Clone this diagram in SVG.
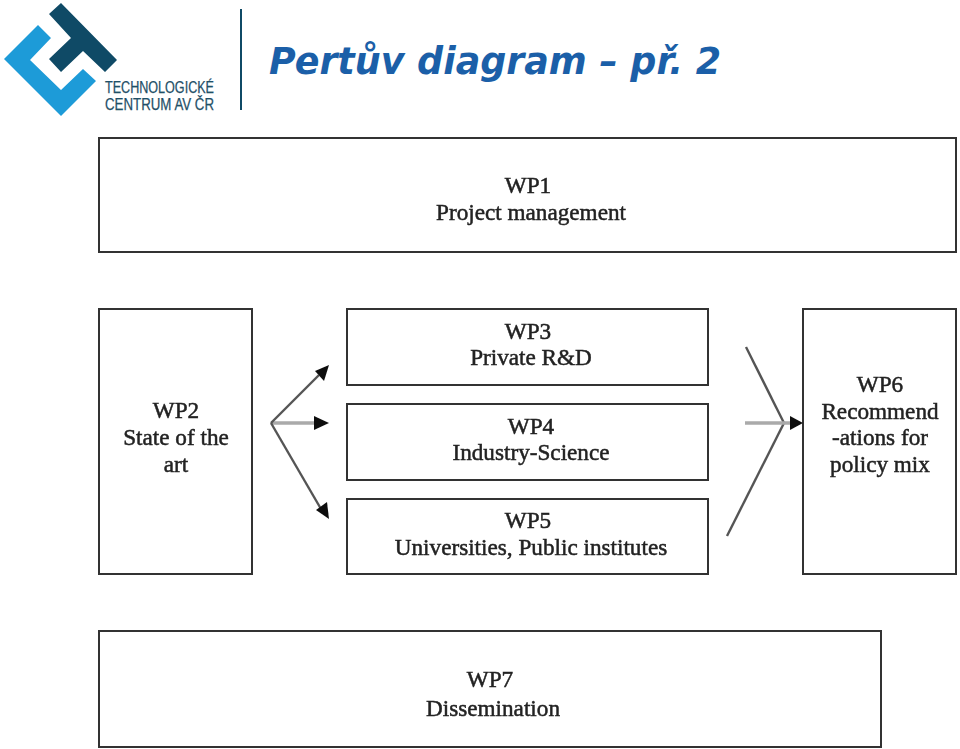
<svg xmlns="http://www.w3.org/2000/svg" width="960" height="749" viewBox="0 0 960 749">
<defs><filter id="soft" x="-2%" y="-2%" width="104%" height="104%"><feGaussianBlur stdDeviation="0.5"/></filter></defs>
<style>
.box{fill:#fff;stroke:#333;stroke-width:2}
.t{font-family:"Liberation Serif",serif;font-size:23.2px;fill:#222;text-anchor:middle;stroke:#222;stroke-width:.5}
.ln{fill:none;stroke:#555;stroke-width:2.4}
.gr{fill:none;stroke:#aaa;stroke-width:3.5}
.ah{fill:#111}
</style>
<rect width="960" height="749" fill="#fff"/>
<g id="logo">
<polygon points="38,25 51,38 30,60 61,90 83,69 96,81 61,116 4,59" fill="#1d9bd8"/>
<polygon points="61,3 117,60 105,72 83,51 61,72 49,59 71,38 49,14" fill="#0f4a66"/>
<text x="105" y="93" font-family="'Liberation Sans',sans-serif" font-size="16" fill="#1f5068" stroke="#1f5068" stroke-width=".25" textLength="109" lengthAdjust="spacingAndGlyphs">TECHNOLOGICKÉ</text>
<text x="105" y="110" font-family="'Liberation Sans',sans-serif" font-size="16" fill="#1f5068" stroke="#1f5068" stroke-width=".25" textLength="109" lengthAdjust="spacingAndGlyphs">CENTRUM AV ČR</text>
<line x1="241" y1="9" x2="241" y2="110" stroke="#0f4a66" stroke-width="2"/>
</g>
<text id="title" x="269" y="74" font-family="'DejaVu Sans',Verdana,sans-serif" font-size="37" font-style="italic" font-weight="bold" fill="#1b5fa8" textLength="452" lengthAdjust="spacingAndGlyphs">Pertův diagram – př. 2</text>
<g filter="url(#soft)">
<g id="wp1"><rect class="box" x="99" y="138" width="857" height="114"/><text class="t" x="528" y="193">WP1</text><text class="t" x="531" y="220">Project management</text></g>
<g id="wp2"><rect class="box" x="99" y="309" width="153" height="265"/><text class="t" x="176" y="418">WP2</text><text class="t" x="176" y="445">State of the</text><text class="t" x="176" y="472">art</text></g>
<g id="wp3"><rect class="box" x="347" y="309" width="361" height="76"/><text class="t" x="528" y="339">WP3</text><text class="t" x="531" y="365">Private R&amp;D</text></g>
<g id="wp4"><rect class="box" x="347" y="404" width="361" height="76"/><text class="t" x="531" y="434">WP4</text><text class="t" x="531" y="460">Industry-Science</text></g>
<g id="wp5"><rect class="box" x="347" y="499" width="361" height="75"/><text class="t" x="528" y="528">WP5</text><text class="t" x="531" y="555">Universities, Public institutes</text></g>
<g id="wp6"><rect class="box" x="803" y="309" width="153" height="265"/><text class="t" x="880" y="392">WP6</text><text class="t" x="880" y="419">Recommend</text><text class="t" x="880" y="445">-ations for</text><text class="t" x="880" y="472">policy mix</text></g>
<g id="wp7"><rect class="box" x="99" y="631" width="782" height="116"/><text class="t" x="490" y="687">WP7</text><text class="t" x="493" y="716">Dissemination</text></g>
<g id="connectors">
<line class="gr" x1="271" y1="423" x2="316" y2="423"/>
<line class="ln" x1="271" y1="423" x2="319" y2="375"/>
<line class="ln" x1="271" y1="423" x2="321" y2="509"/>
<polygon class="ah" points="329,365 324,381 315,371"/>
<polygon class="ah" points="329,423 314,416 314,430"/>
<polygon class="ah" points="329,519 316,510 327,502"/>
<line class="ln" x1="746" y1="347" x2="784" y2="423"/>
<line class="ln" x1="784" y1="423" x2="727" y2="536"/>
<line class="gr" x1="745" y1="423" x2="790" y2="423"/>
<polygon class="ah" points="803,423 790,416 790,430"/>
</g>
</g>
</svg>
